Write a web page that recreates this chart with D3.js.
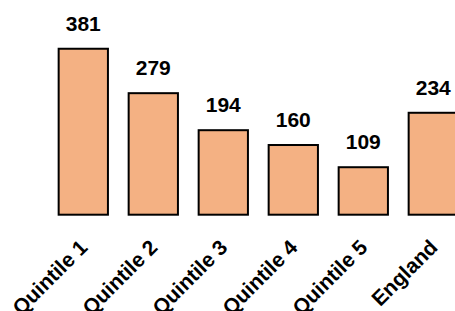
<!DOCTYPE html>
<html>
<head>
<meta charset="utf-8">
<script src="https://cdn.jsdelivr.net/npm/d3@7"></script>
<style>
  html, body { margin: 0; padding: 0; background: #fff; }
  svg { display: block; }
</style>
</head>
<body>
<svg id="chart" width="455" height="311"></svg>
<script>
const categories = ["Quintile 1", "Quintile 2", "Quintile 3", "Quintile 4", "Quintile 5", "England"];
const values = [381, 279, 194, 160, 109, 234];

const svg = d3.select("#chart");
const baseY = 214.7;

const x = d3.scaleBand()
  .domain(categories)
  .range([48.3, 468.3])
  .paddingInner(0.296)
  .paddingOuter(0.148);

const y = d3.scaleLinear()
  .domain([0, 450])
  .range([baseY, baseY - 196]);

const data = categories.map((c, i) => ({ c, v: values[i] }));

svg.append("g").selectAll("rect")
  .data(data)
  .join("rect")
  .attr("x", d => x(d.c))
  .attr("y", d => y(d.v))
  .attr("width", x.bandwidth())
  .attr("height", d => y(0) - y(d.v))
  .attr("fill", "#F4B183")
  .attr("stroke", "#000")
  .attr("stroke-width", 2);

svg.append("g").selectAll("text")
  .data(data)
  .join("text")
  .attr("x", d => x(d.c) + x.bandwidth() / 2)
  .attr("y", d => y(d.v) - 18)
  .attr("text-anchor", "middle")
  .attr("font-family", "'Liberation Sans', Arial, sans-serif")
  .attr("font-weight", "bold")
  .attr("font-size", 21)
  .attr("fill", "#000")
  .text(d => d.v);

const xAxis = d3.axisBottom(x).tickSize(0).tickPadding(0);
const gx = svg.append("g")
  .attr("transform", `translate(0,${baseY})`)
  .call(xAxis);
gx.select(".domain").remove();
gx.selectAll(".tick text")
  .attr("font-family", "'Liberation Sans', Arial, sans-serif")
  .attr("font-weight", "bold")
  .attr("font-size", 21)
  .attr("fill", "#000")
  .attr("text-anchor", "end")
  .attr("dy", null)
  .attr("y", 0)
  .attr("transform", "translate(5.5,34) rotate(-45)");
</script>
</body>
</html>
